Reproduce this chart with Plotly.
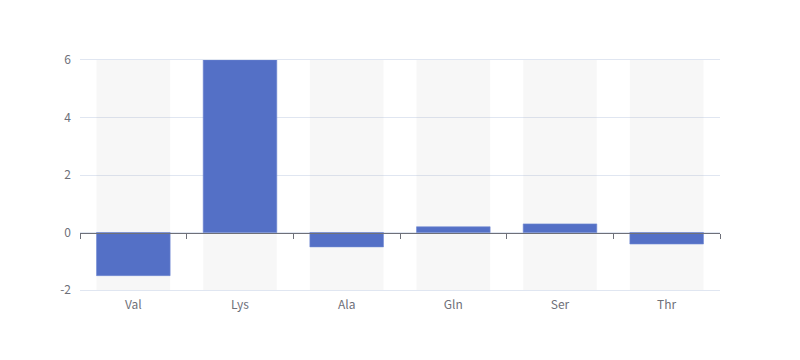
import plotly.graph_objects as go

categories = ["Val", "Lys", "Ala", "Gln", "Ser", "Thr"]
values = [-1.5, 6, -0.5, 0.2, 0.3, -0.4]
y_tickvals = [-2, 0, 2, 4, 6]
y_ticktext = ["-2", "0", "2", "4", "6"]
y_min, y_max = -2, 6

fig = go.Figure()
# background bars (showBackground)
fig.add_trace(go.Bar(
    x=categories, y=[y_max - y_min] * len(categories), base=[y_min] * len(categories),
    marker=dict(color="rgba(180,180,180,0.1)", line=dict(width=0)),
    width=0.69, hoverinfo="skip", showlegend=False,
))
fig.add_trace(go.Bar(
    x=categories, y=values,
    marker=dict(color="#5470c6", line=dict(color="#7089d4", width=0.6)),
    width=0.69, showlegend=False,
))
# axis line at zero with category-boundary ticks
fig.add_trace(go.Scatter(x=[], y=[], xaxis="x2", showlegend=False))

zero_frac = (0 - y_min) / (y_max - y_min)
n = len(categories)
fig.update_layout(
    width=792, height=352,
    margin=dict(l=72, r=80, t=52, b=70),
    paper_bgcolor="white", plot_bgcolor="white",
    barmode="overlay",
    font=dict(family="Noto Sans CJK SC, sans-serif", size=12, color="#6E7079"),
    xaxis=dict(
        type="category", range=[-0.5, n - 0.5],
        showline=True, linecolor="#E0E6F1", linewidth=1, mirror=True,
        showgrid=False, ticks="", zeroline=False,
        tickfont=dict(size=12, color="#6E7079"), ticklabelstandoff=4,
    ),
    xaxis2=dict(
        overlaying="x", anchor="free", position=zero_frac,
        range=[-0.5, n - 0.5], showline=True, linecolor="#6E7079", linewidth=1,
        ticks="outside", ticklen=5, tickcolor="#6E7079", tickwidth=1,
        tickvals=[i - 0.5 for i in range(n + 1)], showticklabels=False,
        showgrid=False, zeroline=False,
    ),
    yaxis=dict(
        range=[y_min, y_max], tickvals=y_tickvals, ticktext=y_ticktext,
        showgrid=True, gridcolor="#E0E6F1", gridwidth=1,
        zeroline=False, showline=False, ticks="",
        tickfont=dict(size=12, color="#6E7079"), ticklabelstandoff=8,
    ),
)
fig.write_html("out.html")
